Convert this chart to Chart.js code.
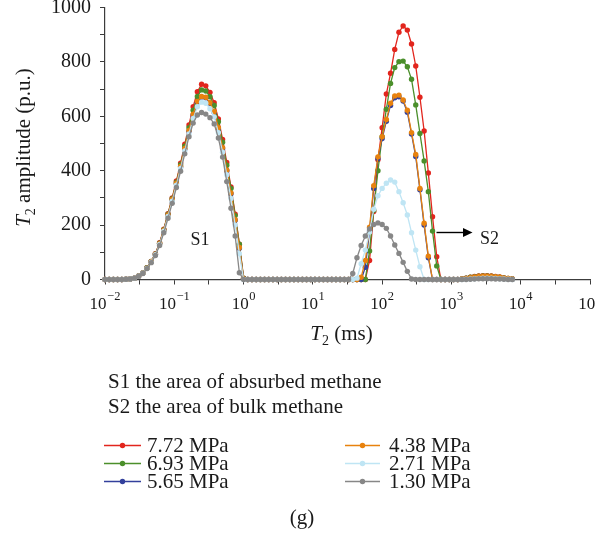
<!DOCTYPE html>
<html>
<head>
<meta charset="utf-8">
<script src="https://cdn.jsdelivr.net/npm/chart.js@4.4.1/dist/chart.umd.min.js"></script>
<style>
  html, body { margin: 0; padding: 0; background: #fff; }
  #wrap { width: 596px; height: 539px; }
</style>
</head>
<body>
<div id="wrap"><canvas id="t2Chart" width="596" height="539"></canvas></div>
<script>
// T2 relaxation times (ms), log-spaced grid of the inversion
const t2Ms = [
  0.01, 0.0115, 0.01322, 0.0152, 0.01748, 0.02009, 0.0231, 0.02656, 0.03054, 0.03511, 0.04037, 0.04642, 0.05337, 0.06136, 0.07055, 0.08111, 0.09326,
  0.1072, 0.1233, 0.1417, 0.163, 0.1874, 0.2154, 0.2477, 0.2848, 0.3275, 0.3765, 0.4329, 0.4977, 0.5722, 0.6579, 0.7565, 0.8697,
  1, 1.15, 1.322, 1.52, 1.748, 2.009, 2.31, 2.656, 3.054, 3.511, 4.037, 4.642, 5.337, 6.136, 7.055, 8.111, 9.326,
  10.72, 12.33, 14.17, 16.3, 18.74, 21.54, 24.77, 28.48, 32.75, 37.65, 43.29, 49.77, 57.22, 65.79, 75.65, 86.97,
  100, 115, 132.2, 152, 174.8, 200.9, 231, 265.6, 305.4, 351.1, 403.7, 464.2, 533.7, 613.6, 705.5, 811.1, 932.6,
  1072, 1233, 1417, 1630, 1874, 2154, 2477, 2848, 3275, 3765, 4329, 4977, 5722, 6579, 7565
];

const pressureLabels = ["7.72 MPa", "6.93 MPa", "5.65 MPa", "4.38 MPa", "2.71 MPa", "1.30 MPa"];

// T2 amplitude (p.u.) for each pressure
const amp772 = [
  0, 0, 0, 0, 0, 1,
  2, 5, 13, 24, 43, 66, 95, 135, 185, 242, 300, 362, 428, 497, 568, 635, 690, 718, 712, 688,
  650, 590, 515, 430, 340, 240, 130, 5,
  0, 0, 0, 0, 0, 0, 0, 0, 0, 0, 0, 0, 0, 0, 0, 0, 0, 0, 0, 0, 0, 0, 0, 0, 0, 0, 0, 0,
  0, 70, 250, 440, 558, 682, 758, 846, 909, 932, 917, 866, 785, 670, 546, 392, 231, 84, 0,
  0, 0, 0, 0,
  2, 5, 8, 11, 13, 14, 14, 13, 11, 9, 6, 4, 2
];
const amp693 = [
  0, 0, 0, 0, 0, 1,
  2, 5, 13, 24, 43, 66, 94, 133, 183, 240, 297, 358, 422, 490, 558, 622, 673, 697, 693, 672,
  640, 580, 505, 420, 335, 235, 130, 5,
  0, 0, 0, 0, 0, 0, 0, 0, 0, 0, 0, 0, 0, 0, 0, 0, 0, 0, 0, 0, 0, 0, 0, 0, 0, 0, 0, 0,
  0, 105, 255, 400, 525, 626, 721, 779, 801, 803, 782, 736, 642, 537, 436, 323, 178, 50, 0,
  0, 0, 0, 0,
  2, 5, 8, 10, 12, 13, 13, 12, 10, 8, 6, 4, 2
];
const amp565 = [
  0, 0, 0, 0, 0, 1,
  2, 5, 12, 23, 42, 65, 93, 131, 180, 236, 292, 352, 414, 480, 545, 605, 652, 671, 668, 648,
  615, 555, 482, 400, 315, 218, 115, 3,
  0, 0, 0, 0, 0, 0, 0, 0, 0, 0, 0, 0, 0, 0, 0, 0, 0, 0, 0, 0, 0, 0, 0, 0, 0, 0, 0,
  0, 45, 178, 335, 445, 518, 582, 640, 668, 672, 656, 615, 535, 452, 330, 200, 80, 0, 0, 0,
  0, 0, 0, 0,
  1, 4, 6, 8, 10, 11, 11, 10, 9, 7, 5, 3, 1
];
const amp438 = [
  0, 0, 0, 0, 0, 1,
  2, 5, 12, 23, 42, 65, 93, 132, 181, 237, 294, 354, 416, 482, 548, 608, 655, 673, 670, 650,
  618, 558, 485, 402, 318, 220, 118, 3,
  0, 0, 0, 0, 0, 0, 0, 0, 0, 0, 0, 0, 0, 0, 0, 0, 0, 0, 0, 0, 0, 0, 0, 0, 0, 0, 0,
  8, 70, 192, 345, 451, 525, 588, 648, 675, 678, 660, 622, 540, 460, 335, 207, 86, 0, 0, 0,
  0, 0, 0, 0,
  2, 4, 7, 9, 11, 12, 12, 11, 10, 8, 6, 4, 2
];
const amp271 = [
  0, 0, 0, 0, 0, 1,
  2, 5, 12, 23, 41, 64, 91, 129, 178, 232, 288, 347, 408, 473, 535, 592, 635, 652, 648, 628,
  598, 540, 468, 385, 298, 200, 95, 0,
  0, 0, 0, 0, 0, 0, 0, 0, 0, 0, 0, 0, 0, 0, 0, 0, 0, 0, 0, 0, 0, 0, 0, 0, 0,
  0, 5, 58, 108, 175, 258, 308, 335, 354, 366, 358, 323, 282, 237, 172, 108, 47, 0, 0, 0, 0, 0,
  0, 0, 0, 0,
  0, 1, 2, 3, 4, 5, 5, 5, 4, 3, 2, 1, 0
];
const amp130 = [
  0, 0, 0, 0, 0, 1,
  2, 5, 12, 22, 40, 62, 88, 125, 172, 225, 280, 338, 398, 462, 525, 575, 605, 614, 608, 595,
  572, 520, 450, 360, 262, 160, 25, 0,
  0, 0, 0, 0, 0, 0, 0, 0, 0, 0, 0, 0, 0, 0, 0, 0, 0, 0, 0, 0, 0, 0, 0, 0,
  0, 22, 80, 125, 160, 186, 202, 208, 202, 188, 160, 127, 96, 63, 30, 2, 0, 0, 0, 0, 0, 0, 0,
  0, 0, 0, 0,
  0, 0, 1, 2, 3, 3, 3, 3, 2, 2, 1, 0, 0
];

// axis ticks: decades on the log axis, every 100 on the amplitude axis
const xTickExponents = [-2, -1, 0, 1, 2, 3, 4, 5];
const yMax = 1000;
const yStep = 100;
const yLabelStep = 200;

const noteLines = ["S1 the area of absurbed methane", "S2 the area of bulk methane"];

const seriesValues = [amp772, amp693, amp565, amp438, amp271, amp130];
const seriesColors = ["#e2251d", "#4b8f2b", "#33409c", "#e8820e", "#bfe5f4", "#878787"];

const SERIF = "'Liberation Serif', 'Times New Roman', serif";
const INK = "#1a1a1a";
const AXIS = "#3c3c3c";

// decade ticks plus a half-decade minor tick between them
const xTickValues = [];
xTickExponents.forEach((e, i) => {
  xTickValues.push(Math.pow(10, e));
  if (i < xTickExponents.length - 1) xTickValues.push(Math.pow(10, e + 0.5));
});

// draws "T" italic with a subscript 2, then the rest of the title
function drawT2Title(ctx, rest, cx, baseY) {
  ctx.font = `italic 21px ${SERIF}`;
  const wT = ctx.measureText("T").width;
  ctx.font = `14px ${SERIF}`;
  const w2 = ctx.measureText("2").width;
  ctx.font = `21px ${SERIF}`;
  const wR = ctx.measureText(rest).width;
  let x = cx - (wT + w2 + wR) / 2;
  ctx.textAlign = "left";
  ctx.font = `italic 21px ${SERIF}`;
  ctx.fillText("T", x, baseY);
  x += wT;
  ctx.font = `14px ${SERIF}`;
  ctx.fillText("2", x, baseY + 5);
  x += w2;
  ctx.font = `21px ${SERIF}`;
  ctx.fillText(rest, x, baseY);
}

const annotations = {
  id: "annotations",
  afterDraw(chart) {
    const ctx = chart.ctx;
    const xs = chart.scales.x;
    ctx.save();
    ctx.fillStyle = INK;
    ctx.textBaseline = "alphabetic";

    // x tick labels as powers of ten
    xTickExponents.forEach(e => {
      const px = xs.getPixelForValue(Math.pow(10, e));
      const exp = e < 0 ? "\u2212" + (-e) : String(e);
      ctx.font = `17px ${SERIF}`;
      const wBase = ctx.measureText("10").width;
      ctx.font = `12.5px ${SERIF}`;
      const wExp = ctx.measureText(exp).width;
      const left = px - (wBase + wExp + 0.5) / 2;
      ctx.textAlign = "left";
      ctx.font = `17px ${SERIF}`;
      ctx.fillText("10", left, 308.5);
      ctx.font = `12.5px ${SERIF}`;
      ctx.fillText(exp, left + wBase + 0.5, 300);
    });

    // axis titles
    drawT2Title(ctx, " (ms)", 341.5, 340);
    ctx.save();
    ctx.translate(29.5, 147.5);
    ctx.rotate(-Math.PI / 2);
    drawT2Title(ctx, " amplitude (p.u.)", 0, 0);
    ctx.restore();

    // peak labels and arrow
    ctx.textAlign = "left";
    ctx.font = `18px ${SERIF}`;
    ctx.fillText("S1", 190.5, 245);
    ctx.fillText("S2", 480, 243.5);
    ctx.strokeStyle = "#000";
    ctx.fillStyle = "#000";
    ctx.lineWidth = 1.4;
    ctx.beginPath();
    ctx.moveTo(436.5, 232.5);
    ctx.lineTo(465, 232.5);
    ctx.stroke();
    ctx.beginPath();
    ctx.moveTo(472.5, 232.5);
    ctx.lineTo(463, 228);
    ctx.lineTo(463, 237);
    ctx.closePath();
    ctx.fill();

    // notes under the plot
    ctx.fillStyle = INK;
    ctx.font = `21px ${SERIF}`;
    noteLines.forEach((line, i) => ctx.fillText(line, 108, 388 + i * 25));

    // legend, two columns of three
    chart.data.datasets.forEach((ds, k) => {
      const col = Math.floor(k / 3);
      const row = k % 3;
      const x0 = col ? 345 : 104;
      const x1 = col ? 380 : 141;
      const y = 445.5 + row * 18;
      ctx.strokeStyle = ds.borderColor;
      ctx.lineWidth = 1.5;
      ctx.beginPath();
      ctx.moveTo(x0, y);
      ctx.lineTo(x1, y);
      ctx.stroke();
      ctx.fillStyle = ds.borderColor;
      ctx.beginPath();
      ctx.arc((x0 + x1) / 2, y, 2.7, 0, Math.PI * 2);
      ctx.fill();
      ctx.fillStyle = INK;
      ctx.font = `21px ${SERIF}`;
      ctx.fillText(ds.label, col ? 389 : 147, y + 6);
    });

    ctx.textAlign = "center";
    ctx.fillText("(g)", 302, 524);
    ctx.restore();
  }
};

const datasets = seriesValues.map((vals, k) => ({
  label: pressureLabels[k],
  data: vals,
  borderColor: seriesColors[k],
  backgroundColor: seriesColors[k],
  pointBackgroundColor: seriesColors[k],
  pointBorderWidth: 0,
  pointRadius: 2.7,
  borderWidth: 1.3,
  tension: 0,
  clip: false,
  // later pressures are painted over the earlier ones
  order: seriesValues.length - 1 - k
}));

new Chart(document.getElementById("t2Chart"), {
  type: "line",
  data: { labels: t2Ms, datasets: datasets },
  plugins: [annotations],
  options: {
    responsive: false,
    maintainAspectRatio: false,
    animation: false,
    events: [],
    layout: { padding: { left: 0, right: 6, top: 7.5, bottom: 0 } },
    plugins: { legend: { display: false }, tooltip: { enabled: false } },
    scales: {
      x: {
        type: "logarithmic",
        min: 0.01,
        max: 100000,
        afterBuildTicks: scale => {
          scale.ticks = xTickValues.map(v => ({ value: v }));
        },
        afterFit: scale => {
          scale.height = 259.5;
          scale.paddingLeft = 0;
          scale.paddingRight = 0;
        },
        ticks: { callback: () => "", autoSkip: false, maxRotation: 0 },
        grid: { drawOnChartArea: false, drawTicks: true, tickLength: 5, color: AXIS, lineWidth: 1 },
        border: { display: true, color: AXIS, width: 1.2 }
      },
      y: {
        min: 0,
        max: yMax,
        afterFit: scale => {
          scale.width = 105;
          scale.paddingTop = 0;
          scale.paddingBottom = 0;
        },
        ticks: {
          stepSize: yStep,
          autoSkip: false,
          padding: 9,
          color: INK,
          font: { family: SERIF, size: 20 },
          callback: v => (v % yLabelStep === 0 ? String(v) : "")
        },
        grid: { drawOnChartArea: false, drawTicks: true, tickLength: 5, color: AXIS, lineWidth: 1 },
        border: { display: true, color: AXIS, width: 1.2 }
      }
    }
  }
});
</script>
</body>
</html>
